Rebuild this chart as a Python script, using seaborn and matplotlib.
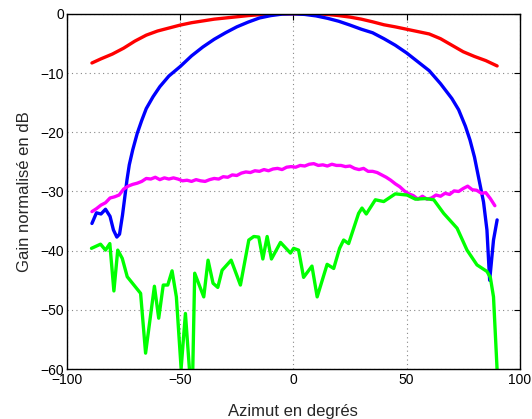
import numpy as np
import pandas as pd
import matplotlib
matplotlib.use("Agg")
import matplotlib.pyplot as plt
import seaborn as sns

# ---------------- data ----------------
red_x = [-89, -85, -80, -75, -70, -65, -60, -55, -50, -45, -40, -35, -30, -25, -20, -15, -10, -5, 0,
         5, 10, 15, 20, 25, 30, 35, 40, 45, 50, 55, 60, 65, 70, 75, 80, 85, 90]
red_y = [-8.3, -7.6, -6.8, -5.8, -4.6, -3.6, -2.9, -2.4, -1.9, -1.5, -1.2, -0.9, -0.7, -0.5, -0.3, -0.15, -0.05, 0, 0,
         0, 0, -0.1, -0.3, -0.55, -0.9, -1.35, -1.85, -2.2, -2.6, -3.0, -3.4, -4.2, -5.3, -6.4, -7.2, -7.9, -8.8]

blue_x = [-89, -87, -85, -83, -81, -79.5, -78, -76.8, -75.5, -74.5, -73.5, -72.5, -71, -69, -67, -65, -62, -59,
          -55, -50, -45, -40, -35, -30, -25, -20, -15, -10, -5, 0, 5, 10, 15, 20, 25, 30, 35, 40, 45, 50, 55,
          60, 65, 70, 73, 76, 78, 80, 82, 84, 85.5, 86.7, 88.4, 90]
blue_y = [-35.4, -33.6, -33.8, -33.0, -34.2, -36.5, -37.7, -37.2, -34.0, -31.0, -28.0, -25.5, -23.0, -20.2, -18.0,
          -16.0, -14.0, -12.3, -10.5, -8.9, -7.1, -5.6, -4.3, -3.2, -2.2, -1.4, -0.7, -0.3, -0.05, 0, -0.1,
          -0.35, -0.75, -1.25, -1.9, -2.6, -3.2, -4.2, -5.3, -6.6, -8.1, -9.6, -11.8, -14.3, -16.2, -19.0,
          -21.3, -24.2, -28.0, -31.8, -36.5, -45.0, -38.2, -34.8]

mag_x = [-89, -87, -85, -83, -81, -79, -77, -75, -73, -71, -69, -67, -65, -63, -61, -59, -57, -55, -53, -51,
         -49, -47, -45, -43, -41, -39, -37, -35, -33, -31, -29, -27, -25, -23, -21, -19, -17, -15, -13, -11,
         -9, -7, -5, -3, -1, 1, 3, 5, 7, 9, 11, 13, 15, 17, 19, 21, 23, 25, 27, 29, 31, 33, 35, 37, 39, 41,
         43, 45, 47, 49, 51, 53, 55, 57, 59, 61, 63, 65, 67, 69, 71, 73, 75, 77, 79, 81, 83, 85, 87, 89]
mag_y = [-33.4, -32.9, -32.3, -31.9, -31.1, -30.9, -30.6, -29.6, -29.1, -28.8, -28.6, -28.3, -27.8, -27.9, -27.6,
         -28.0, -27.7, -27.9, -27.7, -27.9, -28.2, -28.1, -28.3, -28.0, -28.2, -28.3, -28.0, -27.8, -27.9, -27.5,
         -27.6, -27.2, -27.3, -26.9, -26.7, -26.8, -26.5, -26.6, -26.3, -26.5, -26.2, -26.1, -26.3, -25.9, -25.8,
         -25.9, -25.6, -25.7, -25.4, -25.3, -25.6, -25.5, -25.7, -25.4, -25.6, -25.6, -25.8, -25.7, -26.1, -26.3,
         -26.1, -26.6, -26.6, -26.8, -27.2, -27.6, -28.1, -28.7, -29.2, -29.9, -30.4, -30.7, -31.3, -30.8, -31.3,
         -31.1, -30.6, -30.8, -30.3, -30.5, -29.9, -30.0, -29.5, -29.1, -29.7, -29.8, -30.3, -30.2, -31.2, -32.4]

green_x = [-89.2, -85.2, -83, -81.1, -79.3, -77.6, -75.6, -73.4, -67.5, -65.3, -61.4, -59.5, -57.5, -55.5, -53.6,
           -51.7, -49.6, -47.7, -45.8, -44.5, -43.6, -39.6, -37.7, -35.5, -33.4, -31.5, -27.5, -23.4, -19.7,
           -17.5, -15.3, -13.5, -11.6, -9.7, -5.7, -1.3, 0.1, 2.3, 4.5, 8.2, 10.5, 14.9, 17.8, 20.4, 22.2,
           24.4, 28.8, 30.3, 32.2, 36.2, 39.9, 45, 50.2, 53.9, 58.3, 62, 66.4, 72.3, 76.7, 81.1, 85.5, 87,
           88.4, 90]
green_y = [-39.6, -38.9, -39.9, -38.8, -46.8, -39.9, -41.3, -44.4, -47.2, -57.3, -46.0, -51.4, -45.8, -45.8, -43.4,
           -47.8, -59.9, -50.6, -60.7, -61.0, -43.8, -47.8, -41.6, -45.5, -46.2, -43.3, -41.6, -45.8, -38.2,
           -37.6, -37.7, -41.4, -37.6, -41.4, -38.6, -40.4, -39.6, -39.9, -44.5, -42.6, -47.8, -42.3, -43.0,
           -39.6, -38.2, -38.8, -33.7, -32.8, -33.8, -31.4, -31.7, -30.4, -30.6, -31.3, -31.2, -31.4, -33.7,
           -36.2, -39.9, -42.4, -43.5, -44.5, -47.8, -60.2]

xticks = [-100, -50, 0, 50, 100]
yticks = [0, -10, -20, -30, -40, -50, -60]

# ---------------- plot ----------------
sns.set_style("white")
plt.rcParams["font.family"] = ["Liberation Sans", "DejaVu Sans"]

fig = plt.figure(figsize=(5.32, 4.19), dpi=100)
ax = fig.add_axes([0.126, 0.119, 0.851, 0.848])

series = [
    (red_x, red_y, "#ff0000"),
    (blue_x, blue_y, "#0000ff"),
    (mag_x, mag_y, "#ff00ff"),
    (green_x, green_y, "#00ff00"),
]
for xs, ys, col in series:
    df = pd.DataFrame({"x": xs, "y": ys})
    sns.lineplot(data=df, x="x", y="y", ax=ax, color=col, linewidth=2.4,
                 sort=False, estimator=None)

ax.set_xlim(-100, 100)
ax.set_ylim(-60, 0)
ax.set_xticks(xticks)
ax.set_yticks(yticks)
ax.set_xticklabels([str(t).replace("-", "\u2212") for t in xticks], fontsize=10)
ax.set_yticklabels([str(t).replace("-", "\u2212") for t in yticks], fontsize=10)
ax.tick_params(axis="x", pad=3)
ax.tick_params(direction="in", top=True, right=True, length=4, width=0.8, colors="black")
ax.tick_params(axis="y", pad=2)
ax.grid(True, linestyle=(0, (1, 3)), color="#888888", linewidth=0.8)
for s in ax.spines.values():
    s.set_visible(True)
    s.set_color("black")
    s.set_linewidth(1.0)
ax.set_xlabel("Azimut en degrés", fontsize=12, labelpad=12)
ax.set_ylabel("Gain normalisé en dB", fontsize=12, labelpad=6)

fig.savefig("out.png", dpi=100)
